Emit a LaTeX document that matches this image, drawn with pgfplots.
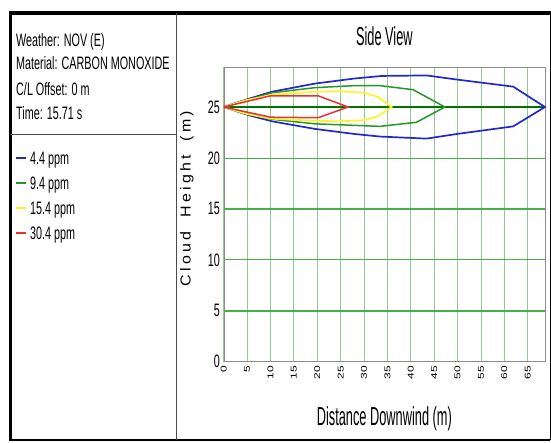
\documentclass[border=0pt]{standalone}
\usepackage{fontspec}
\setmainfont{Liberation Sans}[FakeStretch=0.6]
\newfontfamily\plainfont{Liberation Sans}
\newfontfamily\spacedfont{Liberation Sans}[LetterSpace=20]
\usepackage{graphicx}
\usepackage{pgfplots}
\pgfplotsset{compat=1.18}

\definecolor{cblue}{RGB}{35,40,205}
\definecolor{cgreen}{RGB}{40,150,40}
\definecolor{cyellow}{RGB}{250,245,40}
\definecolor{cred}{RGB}{232,50,50}
\definecolor{gridgreen}{RGB}{150,200,150}
\definecolor{hgreen}{RGB}{70,175,70}
\definecolor{dgreen}{RGB}{0,115,0}

% rotated x tick numbers, thin like the screenshot
\newcommand\xt[1]{\scalebox{1}[0.7]{\fontsize{12}{12}\plainfont #1}}

\begin{document}
\begin{tikzpicture}[x=1pt,y=1pt]
\useasboundingbox (0,0) rectangle (551,443);

% window frame and left panel
\draw[line width=2pt] (9,2.5) -- (550,2.5);
\draw[line width=3.5pt] (8.5,430) -- (551,430);
\draw[line width=3pt] (10,1.5) -- (10,431.5);
\draw[line width=1pt] (550,2.5) -- (550,430);
\draw[black!70, line width=0.8pt] (176,2.5) -- (176,430);
\draw[black!70, line width=0.8pt] (10,309) -- (176,309);

\begin{scope}[every node/.style={anchor=base west, inner sep=0pt, font=\fontsize{18}{20}\selectfont}]
\node at (16,396.5) {Weather: NOV (E)};
\node at (16,373) {Material: CARBON MONOXIDE};
\node at (16,347.5) {C/L Offset: 0 m};
\node at (16,323) {Time: 15.71 s};
\end{scope}

\begin{axis}[
    at={(223.7pt,81.3pt)}, anchor=south west,
    scale only axis, width=321.3pt, height=294.4pt,
    xmin=0, xmax=68.7, ymin=0, ymax=28.9,
    clip=false,
    axis line style={draw=black!45},
    tick style={draw=none},
    xtick={0,5,...,65},
    xticklabels={\xt{0},\xt{5},\xt{10},\xt{15},\xt{20},\xt{25},\xt{30},\xt{35},\xt{40},\xt{45},\xt{50},\xt{55},\xt{60},\xt{65}},
    xticklabel style={rotate=90, anchor=east, inner xsep=4pt, inner ysep=0pt},
    ytick={0,5,...,25},
    yticklabels={0,5,10,15,20,25},
    yticklabel style={font=\fontsize{18}{18}\selectfont, anchor=east, inner xsep=3.5pt, inner ysep=0pt},
    xmajorgrids, ymajorgrids,
    x grid style={gridgreen, line width=0.8pt},
    y grid style={hgreen, line width=0.9pt},
    extra y ticks={5,15},
    extra y tick labels={\empty,\empty},
    extra y tick style={y grid style={hgreen, line width=2.2pt}},
    title={\scalebox{0.82}[1]{Side View}},
    title style={at={(axis description cs:0.5,1)}, anchor=base, yshift=15.4pt, inner sep=0pt, font=\fontsize{26}{26}\selectfont},
    xlabel={\scalebox{0.82}[1]{Distance Downwind (m)}},
    xlabel style={at={(axis description cs:0.5,0)}, anchor=base, yshift=-64pt, inner sep=0pt, font=\fontsize{26}{26}\selectfont},
    ylabel={\scalebox{1}[0.9]{\fontsize{16}{16}\spacedfont Cloud\hspace{14pt}Height\hspace{14pt}(m)}},
    ylabel style={at={(axis description cs:-0.1142,0.5543)}, anchor=center, inner sep=0pt},
    legend style={draw=none, fill=none, inner sep=0pt,
        at={(axis description cs:0,1)}, anchor=north west,
        xshift=-208.7pt, yshift=-84.2pt,
        font=\fontsize{18}{20}\selectfont,
        row sep=11.3pt, column sep=3pt,
        nodes={inner sep=0pt, anchor=base west}},
    legend cell align=left,
    legend image code/.code={\draw[#1, line width=2pt] (0pt,6.5pt) -- (10pt,6.5pt);},
]

% centre line of the plume
\addplot[dgreen, line width=1.3pt, forget plot] coordinates {(0,25) (68.7,25)};

% 4.4 ppm
\addplot[cblue, line width=1.7pt] coordinates {
(0,25) (5.3,25.8) (10.3,26.5) (19.5,27.3) (28,27.8) (33.8,28.05) (43.4,28.1)
(49.8,27.7) (61.9,27.0) (68.7,25)
(61.9,23.1) (49.8,22.35) (43.4,21.9) (33.4,22.1) (28,22.35) (19.5,22.85)
(10.3,23.6) (5.3,24.2) (0,25)};
\addlegendentry{4.4 ppm}

% 9.4 ppm
\addplot[cgreen, line width=1.5pt] coordinates {
(0,25) (5.3,25.7) (10.3,26.4) (19.5,26.9) (28,27.1) (33.4,27.1) (40.5,26.7) (47.3,25)
(41.2,23.5) (33.4,23.1) (28,23.2) (19.5,23.35) (10.3,23.8) (5.3,24.3) (0,25)};
\addlegendentry{9.4 ppm}

% 15.4 ppm
\addplot[cyellow, line width=1.7pt] coordinates {
(0,25) (5,25.7) (10.3,26.2) (19.5,26.5) (25,26.55) (30,26.4) (33,26.0) (35.9,25)
(33,24.1) (30,23.7) (25,23.6) (19.5,23.65) (10.3,23.85) (5,24.3) (0,25)};
\addlegendentry{15.4 ppm}

% 30.4 ppm
\addplot[cred, line width=1.5pt] coordinates {
(0,25) (10,26.1) (20.2,26.1) (26.6,25)
(20.2,23.95) (10,24.0) (0,25)};
\addlegendentry{30.4 ppm}

\end{axis}
\end{tikzpicture}
\end{document}
